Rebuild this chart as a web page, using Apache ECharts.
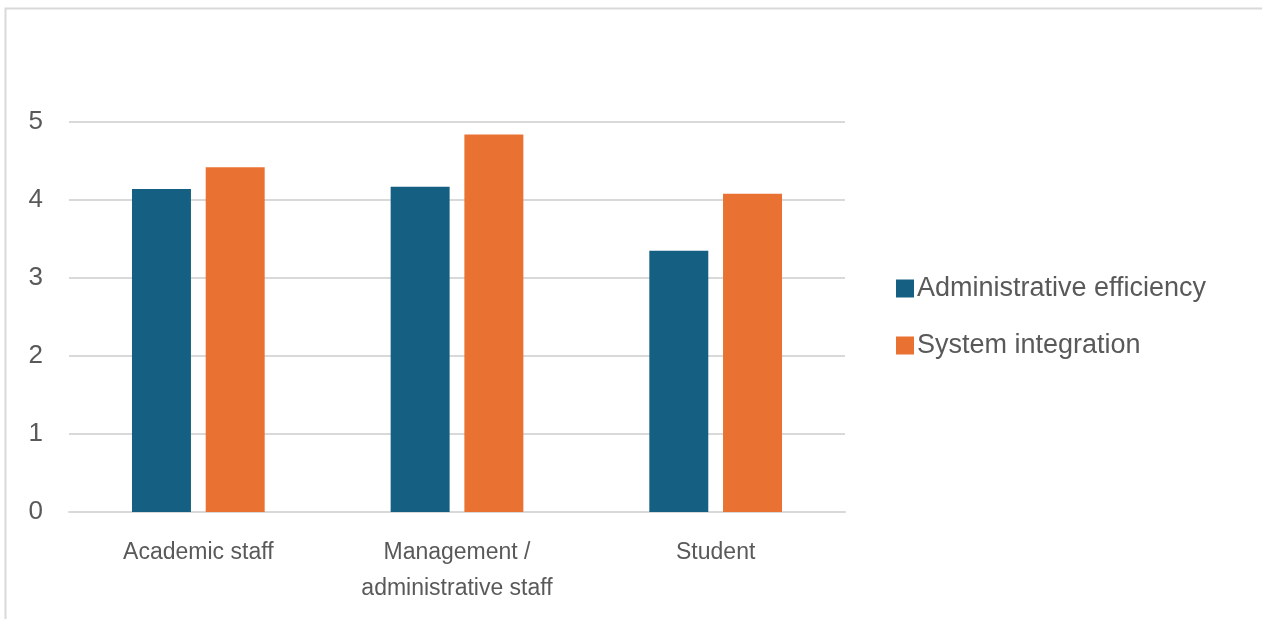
<!DOCTYPE html>
<html>
<head>
<meta charset="utf-8">
<script src="https://cdn.jsdelivr.net/npm/echarts@6/dist/echarts.min.js"></script>
<style>
  html, body { margin: 0; padding: 0; background: #fff; }
  #chart { width: 1262px; height: 619px; }
</style>
</head>
<body>
<div id="chart"></div>
<script>
// Survey groups and mean scores per dimension
const categories = ['Academic staff', 'Management /\nadministrative staff', 'Student'];
const seriesNames = ['Administrative efficiency', 'System integration'];
const adminEfficiency = [4.14, 4.17, 3.35];
const systemIntegration = [4.42, 4.84, 4.08];
const yTicks = [0, 1, 2, 3, 4, 5];

const FONT = '"Liberation Sans", Arial, sans-serif';
const TEXT = '#595959';

const chart = echarts.init(document.getElementById('chart'));
chart.setOption({
  animation: false,
  backgroundColor: '#ffffff',
  color: ['#156082', '#E97132'],
  graphic: [{
    type: 'rect',
    shape: { x: 5.5, y: 8.5, width: 1400, height: 800 },
    style: { fill: 'none', stroke: '#d9d9d9', lineWidth: 2 },
    silent: true
  }],
  grid: { left: 69, right: 417, top: 122, bottom: 107, containLabel: false },
  legend: {
    orient: 'vertical',
    left: 891,
    top: 270,
    itemWidth: 18,
    itemHeight: 18,
    itemGap: 30,
    icon: 'rect',
    textStyle: { fontFamily: FONT, fontSize: 27, color: TEXT, padding: [0, 0, 0, -2] },
    data: seriesNames
  },
  xAxis: {
    type: 'category',
    data: categories,
    axisLine: { lineStyle: { color: '#d9d9d9', width: 2 } },
    axisTick: { show: false },
    axisLabel: {
      fontFamily: FONT, fontSize: 23, color: TEXT,
      margin: 23, lineHeight: 36, interval: 0
    }
  },
  yAxis: {
    type: 'value',
    min: yTicks[0],
    max: yTicks[yTicks.length - 1],
    interval: 1,
    axisLine: { show: false },
    axisTick: { show: false },
    splitLine: { lineStyle: { color: '#d9d9d9', width: 2 } },
    axisLabel: { fontFamily: FONT, fontSize: 26, color: TEXT, margin: 26 }
  },
  series: [
    {
      name: seriesNames[0], type: 'bar', data: adminEfficiency,
      barWidth: '22.8%', barGap: '25%'
    },
    {
      name: seriesNames[1], type: 'bar', data: systemIntegration,
      barWidth: '22.8%', barGap: '25%'
    }
  ]
});
</script>
</body>
</html>
